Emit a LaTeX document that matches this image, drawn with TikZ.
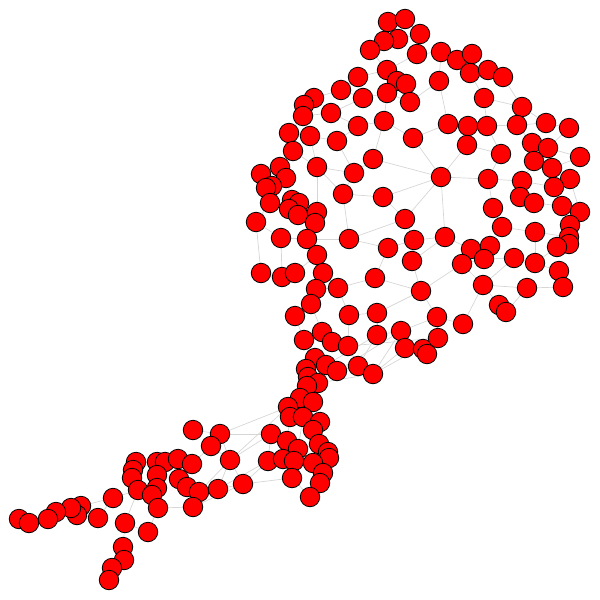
\documentclass[tikz,border=0pt]{standalone}
\usetikzlibrary{backgrounds}
\begin{document}
\begin{tikzpicture}[x=1pt,y=-1pt,
  dot/.style={circle,draw=black,line width=0.8pt,fill=red,minimum size=19.5pt,inner sep=0pt},
  edge/.style={draw=black!16,line width=0.7pt}]
\useasboundingbox (0,0) rectangle (600,600);
\foreach \i/\x/\y in {
1/388/22,2/405/19,3/420/34,4/398/39,5/384/41,6/370/50,7/417/54,8/441/52,9/457/60,10/472/54,
11/470/73,12/488/70,13/503/77,14/387/70,15/397/81,16/406/84,17/387/93,18/410/102,19/358/77,20/341/90,
21/363/98,22/314/98,23/304/105,24/303/116,25/331/113,26/384/121,27/358/126,28/439/81,29/484/98,30/522/107,
31/448/124,32/468/126,33/487/126,34/517/125,35/546/123,36/569/128,37/289/133,38/310/136,39/337/141,40/413/138,
41/467/145,42/532/143,43/548/148,44/293/151,45/501/154,46/534/161,47/580/157,48/552/168,49/570/179,50/280/167,
51/261/174,52/286/178,53/272/186,54/266/188,55/317/167,56/354/173,57/373/159,58/441/177,59/488/179,60/522/181,
61/554/187,62/343/194,63/383/197,64/520/197,65/534/203,66/562/206,67/580/212,68/493/208,69/270/203,70/292/200,
71/299/203,72/289/209,73/298/215,74/317/212,75/315/223,76/256/222,77/405/219,78/570/225,79/502/227,80/535/232,
81/569/237,82/569/244,83/557/247,84/281/238,85/307/239,86/349/239,87/388/248,88/414/240,89/445/237,90/412/261,
91/471/249,92/490/246,93/484/259,94/462/264,95/514/258,96/535/263,97/559/271,98/317/255,99/261/273,100/282/277,
101/295/273,102/323/273,103/375/278,104/316/289,105/338/288,106/421/291,107/483/285,108/527/288,109/563/287,110/311/304,
111/295/316,112/349/315,113/377/313,114/437/317,115/499/305,116/506/312,117/463/324,118/322/332,119/304/340,120/332/342,
121/348/346,122/377/335,123/401/331,124/405/348,125/423/349,126/427/354,127/438/338,128/315/358,129/326/365,130/337/371,
131/358/366,132/373/374,133/306/369,134/308/377,135/318/383,136/307/386,137/300/398,138/313/402,139/288/407,140/290/417,
141/303/417,142/320/422,143/313/430,144/271/434,145/287/441,146/298/449,147/319/444,148/328/452,149/329/458,150/268/461,
151/283/459,152/294/461,153/313/463,154/323/473,155/292/478,156/320/483,157/310/497,158/243/484,159/193/430,160/220/434,
161/211/446,162/230/460,163/136/462,164/133/470,165/132/478,166/157/462,167/165/462,168/178/459,169/192/464,170/157/475,
171/179/479,172/138/490,173/157/488,174/152/495,175/187/487,176/199/492,177/218/489,178/158/508,179/193/507,180/113/498,
181/125/523,182/148/532,183/98/518,184/81/506,185/77/515,186/71/508,187/56/512,188/48/519,189/19/519,190/29/523,
191/123/547,192/124/560,193/112/568,194/109/580}
  \node[dot] (n\i) at (\x,\y) {};
\begin{scope}[on background layer]
\foreach \a/\b in {
1/2,1/5,2/3,3/4,4/5,5/6,3/7,7/8,8/9,9/10,10/11,11/12,12/13,7/14,6/14,14/15,15/16,16/17,17/18,14/19,
19/20,20/21,21/17,20/22,22/23,23/24,24/25,25/21,17/26,26/27,27/25,18/28,28/8,28/31,11/29,29/30,13/30,29/33,
31/32,32/33,33/34,34/35,35/36,30/35,24/37,37/38,38/39,39/27,26/40,40/31,40/58,32/41,41/45,33/45,34/42,42/43,
43/36,42/46,43/47,46/48,47/48,48/49,37/44,44/50,50/51,50/52,52/53,51/53,53/54,38/55,44/55,55/56,39/56,56/57,
57/26,57/58,58/59,58/63,58/77,58/89,58/41,59/45,59/60,60/46,60/61,61/49,60/64,64/65,65/66,66/67,67/49,59/68,
68/79,56/62,62/55,62/63,63/77,62/86,52/70,70/71,71/72,72/73,53/69,69/76,69/72,73/74,74/55,74/75,75/85,76/84,
84/85,85/86,86/77,86/87,87/88,88/77,88/89,89/91,89/90,90/88,91/92,92/79,79/80,80/81,81/78,78/67,82/83,81/82,
92/93,93/94,93/95,95/96,96/83,96/97,97/109,80/96,85/98,98/102,84/100,99/100,100/101,101/98,102/104,104/105,
105/103,103/87,103/106,90/106,106/94,94/107,107/95,107/108,108/109,104/110,110/111,105/112,112/113,113/106,
106/114,114/117,117/107,107/115,115/116,116/108,110/118,111/119,118/120,120/121,112/121,113/122,122/123,
123/124,124/125,125/126,114/127,127/126,123/114,119/128,128/129,129/130,130/131,131/132,132/127,131/121,
128/133,133/134,134/135,135/136,136/137,137/138,137/139,139/140,140/141,141/142,138/142,142/143,143/147,
141/146,140/145,145/144,146/147,147/148,148/149,149/153,146/152,151/152,150/151,144/150,152/155,153/154,
154/156,156/157,155/157,153/149,139/160,139/162,144/162,150/177,158/150,158/155,158/177,162/160,159/160,
160/161,161/169,161/162,162/176,162/177,176/177,169/168,168/167,167/166,166/163,163/164,164/165,165/172,
166/170,170/173,173/174,172/174,171/175,175/176,170/171,168/171,174/178,178/179,179/176,175/179,172/180,
180/184,184/186,186/185,185/187,187/188,188/189,189/190,180/183,183/185,172/181,181/191,191/192,192/193,
193/194,181/182,182/178,179/158,99/76,121/127,130/123,129/122,135/132,132/123,132/124,131/122,158/162,144/160}
  \draw[edge] (n\a) -- (n\b);
\end{scope}
\end{tikzpicture}
\end{document}
